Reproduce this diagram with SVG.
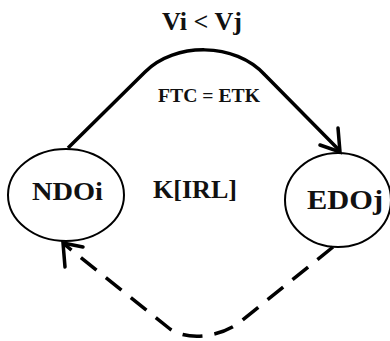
<svg xmlns="http://www.w3.org/2000/svg" width="390" height="341" viewBox="0 0 390 341">
<style>
.node{fill:none;stroke:#000;stroke-width:2}
.t{font-family:"Liberation Serif","Times New Roman",serif;font-weight:bold;fill:#111}
.edge{fill:none;stroke:#000;stroke-width:3.5;stroke-linecap:butt;stroke-linejoin:round}
.head{fill:none;stroke:#000;stroke-width:3.5;stroke-linecap:round;stroke-linejoin:miter}
.dash{stroke-dasharray:20 12}
</style>
<rect width="390" height="341" fill="#fff"/>
<g id="label-top">
<text class="t" x="162" y="30" font-size="26" textLength="80" lengthAdjust="spacingAndGlyphs">Vi &lt; Vj</text>
</g>
<g id="node-NDOi">
<ellipse class="node" cx="66" cy="195" rx="58" ry="46"/>
<text class="t" x="32" y="200" font-size="25" textLength="71" lengthAdjust="spacingAndGlyphs">NDOi</text>
</g>
<g id="node-EDOj">
<ellipse class="node" cx="338" cy="200" rx="53" ry="47"/>
<text class="t" x="307" y="209" font-size="27" textLength="76" lengthAdjust="spacingAndGlyphs">EDOj</text>
</g>
<g id="label-mid">
<text class="t" x="153" y="198" font-size="26" textLength="84" lengthAdjust="spacingAndGlyphs">K[IRL]</text>
</g>
<g id="connectors">
<path class="edge" d="M68,148 L145,72 C175,42 235,42 265,75 L340,151"/>
<path class="head" d="M320,145 L340,152 L338,128"/>
<text class="t" x="158" y="102" font-size="18" textLength="102" lengthAdjust="spacingAndGlyphs">FTC = ETK</text>
<path class="edge dash" d="M333,247 L240,322 C222,336 190,342 170,329 L64,244"/>
<path class="head" d="M65,267 L63,243 L83,247"/>
</g>
</svg>
